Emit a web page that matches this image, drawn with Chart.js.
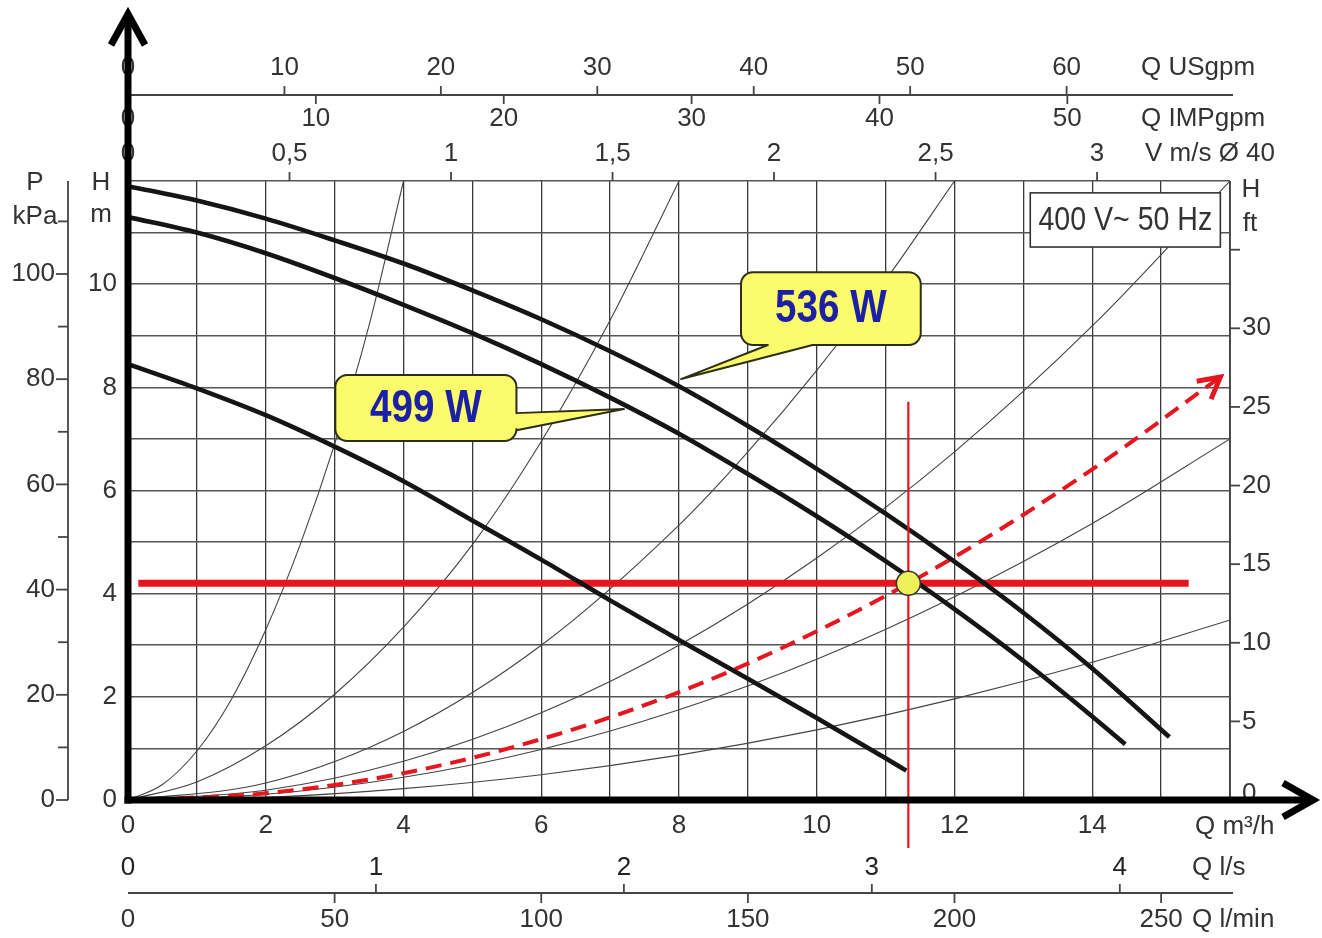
<!DOCTYPE html>
<html>
<head>
<meta charset="utf-8">
<script src="https://cdn.jsdelivr.net/npm/chart.js@4.4.1/dist/chart.umd.min.js"></script>
<style>
html,body{margin:0;padding:0;background:#fff;}
canvas{display:block;}
</style>
</head>
<body>
<canvas id="c" width="1322" height="938"></canvas>
<script>
// ---------- data (Q in m³/h, H in m) ----------
const pumpFlow536 = [0,1,2,3,4,5,6,7,8,9,10,11,12,13,14,15.12];
const pumpHead536 = [11.9,11.62,11.27,10.85,10.4,9.88,9.32,8.7,8.02,7.25,6.42,5.55,4.62,3.63,2.55,1.22];

const pumpFlow499 = [0,1,2,3,4,5,6,7,8,9,10,11,12,13,14,14.48];
const pumpHead499 = [11.3,11.0,10.6,10.12,9.6,9.05,8.45,7.8,7.1,6.32,5.5,4.63,3.7,2.7,1.62,1.08];

const pumpFlowMin = [0,1,2,3,4,5,6,7,8,9,10,11,11.3];
const pumpHeadMin = [8.45,7.98,7.46,6.85,6.18,5.42,4.66,3.87,3.1,2.35,1.59,0.81,0.57];

const sys1Flow = [0,0.5,1,1.5,2,2.5,3,3.5,4];
const sys1Head = [0,0.3,0.95,1.95,3.3,4.95,6.9,9.2,12];
const sys2Flow = [0,1,2,3,4,5,6,7,8];
const sys2Head = [0,0.35,1.05,2.05,3.35,4.95,6.95,9.3,12];
const sys3Flow = [0,2,4,6,8,9,10,11,12];
const sys3Head = [0,0.33,1.33,3.0,5.33,6.75,8.33,10.08,12];
const sys4Flow = [0,2,4,6,8,10,12,14,16];
const sys4Head = [0,0.19,0.75,1.69,3.0,4.69,6.75,9.19,12];
const sys5Flow = [0,2,4,6,8,10,12,14,16];
const sys5Head = [0,0.11,0.44,0.98,1.75,2.73,3.94,5.36,7.0];
const sys6Flow = [0,2,4,6,8,10,12,14,16];
const sys6Head = [0,0.05,0.22,0.49,0.87,1.36,1.96,2.67,3.49];

const sysRedFlow = [0,2,4,6,8,10,12,14,15.86];
const sysRedHead = [0,0.13,0.52,1.18,2.09,3.27,4.71,6.41,8.2];

const dutyFlow = [11.33];
const dutyHead = [4.2];
const dutyLineFlow = [0.15, 15.4];       // horizontal red line (H = duty head)
const dutyVertHead = [-0.93, 7.72];      // vertical red line (Q = duty flow)

// tick labels of the auxiliary scales
const usgpmTicks = [0,10,20,30,40,50,60];
const impgpmTicks = [0,10,20,30,40,50];
const velTicks = [0,0.5,1,1.5,2,2.5,3];
const velLabels = ['0','0,5','1','1,5','2','2,5','3'];
const lsTicks = [0,1,2,3,4];
const lminTicks = [0,50,100,150,200,250];
const kpaMajor = [0,20,40,60,80,100];
const kpaMinor = [10,30,50,70,90,110];
const ftTicks = [0,5,10,15,20,25,30,35];
const ftLabelled = [0,5,10,15,20,25,30];

// ---------- helpers ----------
const FAM = "'Liberation Sans', Arial, sans-serif";
const TXT = '#333';
const RED = '#e5161d';
const pts = (q, h) => q.map((v, i) => ({x: v, y: h[i]}));
const thin = (q, h) => ({data: pts(q, h), borderColor: '#444', borderWidth: 1.1, pointRadius: 0,
  fill: false, cubicInterpolationMode: 'monotone', order: 20});
const thick = (q, h, o) => ({data: pts(q, h), borderColor: '#151515', borderWidth: 4.6, pointRadius: 0,
  fill: false, cubicInterpolationMode: 'monotone', borderCapStyle: 'butt', order: o});

const annotations = [
  {text: '536 W', box: [8.9, 10.23, 11.51, 8.82], side: 'bottom', base: [9.29, 9.94], tip: [8.03, 8.16]},
  {text: '499 W', box: [3.01, 8.24, 5.64, 6.96], side: 'right', base: [7.5, 7.17], tip: [7.2, 7.58]}
];
const ratingBox = {text: '400 V~ 50 Hz', box: [13.1, 11.77, 15.86, 10.72]};

function drawText(ctx, s, x, y, font, color, align, sx) {
  ctx.save();
  ctx.font = font; ctx.fillStyle = color; ctx.textAlign = align || 'center'; ctx.textBaseline = 'middle';
  ctx.translate(x, y);
  if (sx) ctx.scale(sx, 1);
  ctx.fillText(s, 0, 0);
  ctx.restore();
}
function seg(ctx, x1, y1, x2, y2) { ctx.beginPath(); ctx.moveTo(x1, y1); ctx.lineTo(x2, y2); ctx.stroke(); }

function calloutPath(ctx, x1, y1, x2, y2, r, side, b1, b2, tx, ty) {
  ctx.beginPath();
  ctx.moveTo(x1 + r, y1);
  ctx.lineTo(x2 - r, y1); ctx.arcTo(x2, y1, x2, y1 + r, r);
  if (side === 'right') { ctx.lineTo(x2, b1); ctx.lineTo(tx, ty); ctx.lineTo(x2, b2); }
  ctx.lineTo(x2, y2 - r); ctx.arcTo(x2, y2, x2 - r, y2, r);
  if (side === 'bottom') { ctx.lineTo(b2, y2); ctx.lineTo(tx, ty); ctx.lineTo(b1, y2); }
  ctx.lineTo(x1 + r, y2); ctx.arcTo(x1, y2, x1, y2 - r, r);
  ctx.lineTo(x1, y1 + r); ctx.arcTo(x1, y1, x1 + r, y1, r);
  ctx.closePath();
}

const pumpPlugin = {
  id: 'pumpChart',
  afterDatasetsDraw(chart) {
    const ctx = chart.ctx, X = chart.scales.x, Y = chart.scales.y;
    // arrow head of the red system curve
    const n = sysRedFlow.length;
    const tx = X.getPixelForValue(sysRedFlow[n - 1]), ty = Y.getPixelForValue(sysRedHead[n - 1]);
    const px = X.getPixelForValue(sysRedFlow[n - 2]), py = Y.getPixelForValue(sysRedHead[n - 2]);
    const ang = Math.atan2(ty - py, tx - px) - 0.05;
    ctx.save();
    ctx.strokeStyle = RED; ctx.lineWidth = 5; ctx.lineJoin = 'miter'; ctx.lineCap = 'butt';
    const L = 24, a = 0.5;
    ctx.beginPath();
    ctx.moveTo(tx - L * Math.cos(ang - a), ty - L * Math.sin(ang - a));
    ctx.lineTo(tx, ty);
    ctx.lineTo(tx - L * Math.cos(ang + a), ty - L * Math.sin(ang + a));
    ctx.stroke();
    ctx.restore();

    // callouts
    annotations.forEach(an => {
      const x1 = X.getPixelForValue(an.box[0]), y1 = Y.getPixelForValue(an.box[1]);
      const x2 = X.getPixelForValue(an.box[2]), y2 = Y.getPixelForValue(an.box[3]);
      const tpx = X.getPixelForValue(an.tip[0]), tpy = Y.getPixelForValue(an.tip[1]);
      let b1, b2;
      if (an.side === 'bottom') { b1 = X.getPixelForValue(an.base[0]); b2 = X.getPixelForValue(an.base[1]); }
      else { b1 = Y.getPixelForValue(an.base[0]); b2 = Y.getPixelForValue(an.base[1]); }
      ctx.save();
      calloutPath(ctx, x1, y1, x2, y2, 12, an.side, b1, b2, tpx, tpy);
      ctx.fillStyle = '#fbfb6c'; ctx.fill();
      ctx.lineWidth = 2; ctx.strokeStyle = '#2e2e14'; ctx.lineJoin = 'round'; ctx.stroke();
      ctx.restore();
      drawText(ctx, an.text, (x1 + x2) / 2, (y1 + y2) / 2 + 1, 'bold 46px ' + FAM, '#1c20a6', 'center', 0.84);
    });

    // rating box
    const rb = ratingBox.box;
    const rx1 = X.getPixelForValue(rb[0]), ry1 = Y.getPixelForValue(rb[1]);
    const rx2 = X.getPixelForValue(rb[2]), ry2 = Y.getPixelForValue(rb[3]);
    ctx.save();
    ctx.fillStyle = '#fff'; ctx.fillRect(rx1, ry1, rx2 - rx1, ry2 - ry1);
    ctx.strokeStyle = '#333'; ctx.lineWidth = 1.6; ctx.strokeRect(rx1, ry1, rx2 - rx1, ry2 - ry1);
    ctx.restore();
    drawText(ctx, ratingBox.text, (rx1 + rx2) / 2, (ry1 + ry2) / 2 + 1, '34px ' + FAM, '#333', 'center', 0.84);
  },
  afterDraw(chart) {
    const ctx = chart.ctx, X = chart.scales.x, Y = chart.scales.y, S = chart.scales;
    const Lx = X.left, Rx = X.right, T = Y.top, B = Y.bottom;
    const F = '26px ' + FAM;
    ctx.save();
    ctx.strokeStyle = '#444'; ctx.lineWidth = 1.8; ctx.lineCap = 'butt';

    // top: Q USgpm
    seg(ctx, Lx, 95, Rx + 3, 95);
    usgpmTicks.forEach(v => {
      const x = S.usgpm.getPixelForValue(v);
      if (v > 0) seg(ctx, x, 95, x, 86);
      drawText(ctx, String(v), x, 68, F, TXT);
    });
    drawText(ctx, 'Q USgpm', 1141, 68, F, TXT, 'left');
    // top: Q IMPgpm
    impgpmTicks.forEach(v => {
      const x = S.impgpm.getPixelForValue(v);
      if (v > 0) seg(ctx, x, 95, x, 104);
      drawText(ctx, String(v), x, 119, F, TXT);
    });
    drawText(ctx, 'Q IMPgpm', 1141, 119, F, TXT, 'left');
    // top: V m/s
    velTicks.forEach((v, i) => {
      const x = S.vel.getPixelForValue(v);
      if (v > 0) seg(ctx, x, T, x, T - 9);
      drawText(ctx, velLabels[i], x, 154, F, TXT);
    });
    drawText(ctx, 'V m/s Ø 40', 1145, 154, F, TXT, 'left');

    // bottom: l/s and l/min
    seg(ctx, Lx, 893, Rx + 3, 893);
    lsTicks.forEach(v => {
      const x = S.ls.getPixelForValue(v);
      if (v > 0) seg(ctx, x, 893, x, 884);
      drawText(ctx, String(v), x, 868, F, '#222');
    });
    drawText(ctx, 'Q l/s', 1192, 868, F, TXT, 'left');
    lminTicks.forEach(v => {
      const x = S.lmin.getPixelForValue(v);
      if (v > 0) seg(ctx, x, 893, x, 903);
      drawText(ctx, String(v), x, 920, F, TXT);
    });
    drawText(ctx, 'Q l/min', 1192, 920, F, TXT, 'left');
    drawText(ctx, 'Q m³/h', 1195, 827, F, TXT, 'left');

    // left: P kPa
    seg(ctx, 68, T, 68, B);
    kpaMajor.forEach(v => {
      const y = S.kpa.getPixelForValue(v);
      seg(ctx, 56, y, 68, y);
      drawText(ctx, String(v), 55, y, F, TXT, 'right');
    });
    kpaMinor.forEach(v => {
      const y = S.kpa.getPixelForValue(v);
      seg(ctx, 58, y, 68, y);
    });
    drawText(ctx, 'P', 35, 183, F, TXT);
    drawText(ctx, 'kPa', 35, 217, F, TXT);
    drawText(ctx, 'H', 101, 183, F, TXT);
    drawText(ctx, 'm', 101, 215, F, TXT);

    // right: H ft
    seg(ctx, Rx, T, Rx, B);
    ftTicks.forEach(v => {
      const y = S.ft.getPixelForValue(v);
      seg(ctx, Rx, y, Rx + 10, y);
      if (ftLabelled.includes(v)) drawText(ctx, String(v), Rx + 12, v === 0 ? y - 6 : y, F, TXT, 'left');
    });
    drawText(ctx, 'H', 1251, 190, F, TXT);
    drawText(ctx, 'ft', 1250, 224, F, TXT);

    // thick main axes with arrows
    ctx.strokeStyle = '#000'; ctx.lineWidth = 7; ctx.lineJoin = 'miter';
    seg(ctx, Lx, B + 3.5, Lx, 16);
    ctx.beginPath(); ctx.moveTo(Lx - 17, 45); ctx.lineTo(Lx, 14); ctx.lineTo(Lx + 17, 45); ctx.stroke();
    seg(ctx, Lx - 3.5, B, 1310, B);
    ctx.beginPath(); ctx.moveTo(1283, B - 17); ctx.lineTo(1313, B); ctx.lineTo(1283, B + 17); ctx.stroke();
    ctx.restore();
  }
};

const tickFont = {family: FAM, size: 26};

new Chart(document.getElementById('c'), {
  type: 'line',
  data: {
    datasets: [
      {data: pts(dutyFlow, dutyHead), showLine: false, pointRadius: 12, pointBackgroundColor: '#f0f058',
        pointBorderColor: '#333', pointBorderWidth: 1.5, order: 0},
      {data: [{x: dutyFlow[0], y: dutyVertHead[0]}, {x: dutyFlow[0], y: dutyVertHead[1]}],
        borderColor: RED, borderWidth: 2.2, pointRadius: 0, clip: false, order: 1},
      thick(pumpFlow536, pumpHead536, 2),
      thick(pumpFlow499, pumpHead499, 3),
      thick(pumpFlowMin, pumpHeadMin, 4),
      {data: dutyLineFlow.map(q => ({x: q, y: dutyHead[0]})), borderColor: RED, borderWidth: 7,
        pointRadius: 0, borderCapStyle: 'butt', order: 5},
      {data: pts(sysRedFlow, sysRedHead), borderColor: RED, borderWidth: 4, borderDash: [16, 9],
        pointRadius: 0, cubicInterpolationMode: 'monotone', order: 6},
      thin(sys1Flow, sys1Head), thin(sys2Flow, sys2Head), thin(sys3Flow, sys3Head),
      thin(sys4Flow, sys4Head), thin(sys5Flow, sys5Head), thin(sys6Flow, sys6Head)
    ]
  },
  options: {
    responsive: false,
    animation: false,
    devicePixelRatio: 1,
    layout: {padding: {top: 181, right: 92, left: 0, bottom: 0}},
    plugins: {legend: {display: false}, tooltip: {enabled: false}},
    events: [],
    scales: {
      x: {
        type: 'linear', min: 0, max: 16, position: 'bottom',
        afterFit: s => { s.height = 138; },
        grid: {color: '#3a3a3a', lineWidth: 1.3, drawTicks: false},
        border: {display: false},
        ticks: {stepSize: 1, autoSkip: false, maxRotation: 0, padding: 10, font: tickFont, color: TXT,
          callback: v => (v % 2 === 0 && v < 16) ? String(v) : ''}
      },
      y: {
        type: 'linear', min: 0, max: 12, position: 'left',
        afterFit: s => { s.width = 128; },
        grid: {color: '#555', lineWidth: 1.6, drawTicks: false},
        border: {display: false},
        ticks: {stepSize: 1, autoSkip: false, padding: 11, font: tickFont, color: TXT,
          callback: v => (v % 2 === 0 && v < 12) ? String(v) : ''}
      },
      kpa: {type: 'linear', axis: 'y', position: 'left', display: false, min: 0, max: 12 * 9.80665},
      ft: {type: 'linear', axis: 'y', position: 'right', display: false, min: 0, max: 12 / 0.3048},
      usgpm: {type: 'linear', axis: 'x', position: 'top', display: false, min: 0, max: 16 / 0.227125},
      impgpm: {type: 'linear', axis: 'x', position: 'top', display: false, min: 0, max: 16 / 0.272765},
      vel: {type: 'linear', axis: 'x', position: 'top', display: false, min: 0, max: 16 / 4.69},
      ls: {type: 'linear', axis: 'x', position: 'bottom', display: false, min: 0, max: 16 / 3.6},
      lmin: {type: 'linear', axis: 'x', position: 'bottom', display: false, min: 0, max: 16 / 0.06}
    }
  },
  plugins: [pumpPlugin]
});
</script>
</body>
</html>
